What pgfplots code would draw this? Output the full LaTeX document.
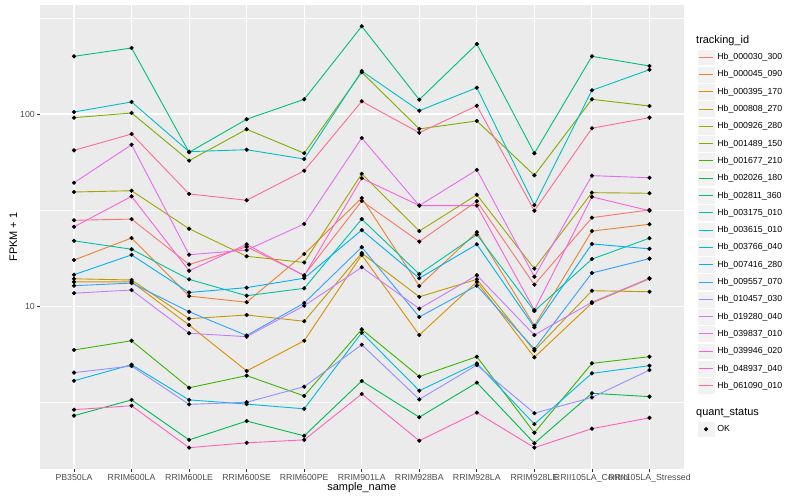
\documentclass[border=0pt]{standalone}
\usepackage{fontspec}
\setmainfont{Liberation Sans}
\usepackage{pgfplots}
\usepackage{pgfplotstable}
\pgfplotsset{compat=1.18}

\definecolor{ggpanel}{HTML}{EBEBEB}
\definecolor{ggkey}{HTML}{F2F2F2}
\definecolor{ggtick}{HTML}{333333}
\definecolor{ggtext}{HTML}{4D4D4D}
\definecolor{c01}{HTML}{F8766D}
\definecolor{c02}{HTML}{EA8331}
\definecolor{c03}{HTML}{D89000}
\definecolor{c04}{HTML}{C09B00}
\definecolor{c05}{HTML}{A3A500}
\definecolor{c06}{HTML}{7CAE00}
\definecolor{c07}{HTML}{39B600}
\definecolor{c08}{HTML}{00BB4E}
\definecolor{c09}{HTML}{00BF7D}
\definecolor{c10}{HTML}{00C1A3}
\definecolor{c11}{HTML}{00BFC4}
\definecolor{c12}{HTML}{00BAE0}
\definecolor{c13}{HTML}{00B0F6}
\definecolor{c14}{HTML}{35A2FF}
\definecolor{c15}{HTML}{9590FF}
\definecolor{c16}{HTML}{C77CFF}
\definecolor{c17}{HTML}{E76BF3}
\definecolor{c18}{HTML}{FA62DB}
\definecolor{c19}{HTML}{FF62BC}
\definecolor{c20}{HTML}{FF6C91}

% FPKM + 1, one row per sample (x = position of sample_name)
\pgfplotstableread{
x  s01  s02   s03  s04   s05  s06   s07  s08  s09   s10   s11   s12  s13  s14  s15  s16   s17   s18  s19  s20
0  28.0 17.4  13.4 13.9  39.3 95.7  5.93 2.70 199.5 21.9  102.4 4.10 14.6 12.8 4.52 11.7  43.9  25.9 2.90 64.7
1  28.4 22.65 13.4 13.7  39.9 101.2 6.62 3.26 220.4 19.8  115.5 4.97 18.5 13.2 4.89 12.15 69.2  37.3 3.04 78.7
2  16.5 11.3  7.99 8.62  25.3 57.2  3.77 2.02 63.2  13.8  63.7  3.26 11.8 9.37 3.09 7.24  18.55 15.3 1.84 38.4
3  20.4 10.5  4.61 9.01  18.2 83.3  4.36 2.53 93.9  11.35 65.2  3.10 12.5 7.05 3.17 6.95  19.6  21.0 1.95 35.6
4  14.5 18.7  6.62 8.36  16.9 62.5  3.42 2.12 119.2 12.4  58.3  2.93 14.0 10.4 3.82 10.07 26.8  14.4 2.02 50.7
5  35.3 36.6  18.5 18.9  48.9 164.8 7.59 4.09 285.8 28.4  167.3 7.29 24.9 20.3 6.31 15.95 75.0  46.3 3.50 116.4
6  21.7 12.75 7.09 11.2  24.6 83.6  4.31 2.65 118.7 14.7  104.0 3.64 14.0 8.80 3.28 9.72  33.4  33.4 2.00 79.9
7  35.2 24.3  13.4 13.8  38.0 92.0  5.47 4.01 231.2 23.6  137.0 5.05 21.0 12.8 4.95 14.5  51.2  33.4 2.80 110.4
8  12.95 7.93 5.43 5.88  15.7 48.0  2.20 1.94 62.5  9.45  33.6  2.44 7.78 6.00 2.78 7.09  14.25 9.57 1.84 31.4
9  28.9 24.6  10.4 12.05 39.0 119.2 5.05 3.53 199.5 17.6  132.8 4.48 21.1 14.9 3.36 10.5  47.8  37.1 2.31 84.3
10 31.7 26.7  13.9 11.9  38.7 110.0 5.47 3.39 177.7 22.6  169.9 4.91 19.9 17.7 4.66 14.0  46.6  31.4 2.63 95.7
}\fpkm

\pgfplotsset{
  gglegend/.style={
    legend style={draw=none, fill=none, inner sep=0pt, row sep=0pt,
      column sep=2.4bp, font=\fontsize{8.8}{10}\selectfont, nodes={inner sep=0pt}},
    legend cell align=left,
  },
}

\begin{document}
\begin{tikzpicture}
\path[use as bounding box, fill=white] (0,0) rectangle (800bp,500bp);

\begin{axis}[
  at={(39.5bp,31bp)}, anchor=south west,
  scale only axis, width=644.5bp, height=464bp,
  xmin=-0.6, xmax=10.6,
  ymode=log, ymin=1.4254, ymax=368.8,
  axis background/.style={fill=ggpanel},
  axis line style={draw=none},
  xtick={0,1,2,3,4,5,6,7,8,9,10},
  xticklabels={PB350LA,RRIM600LA,RRIM600LE,RRIM600SE,RRIM600PE,RRIM901LA,RRIM928BA,RRIM928LA,RRIM928LE,RRII105LA\_Control,RRII105LA\_Stressed},
  ytick={10,100}, yticklabels={10,100},
  minor ytick={3.1623,31.623,316.23},
  grid=both,
  major grid style={white, line width=1.07bp},
  minor grid style={white, line width=0.53bp},
  tick pos=left, tick align=outside,
  major tick length=2.75bp, minor tick length=0pt,
  tick style={ggtick, line width=0.8bp},
  ticklabel style={font=\fontsize{8.8}{10}\selectfont, text=ggtext, inner sep=0pt},
  xticklabel style={anchor=north, yshift=-2.2bp},
  yticklabel style={anchor=east, xshift=-1.75bp},
  xlabel={sample\_name}, ylabel={FPKM + 1},
  label style={font=\fontsize{11}{13}\selectfont, inner sep=0pt},
  xlabel style={at={(rel axis cs:0.5,-0.04677)}, anchor=base},
  ylabel style={at={(rel axis cs:-0.03491,0.5)}, anchor=base},
  gglegend,
  legend style={at={(1.02017,0.90657)}, anchor=north west},
  legend image code/.code={
    \fill[ggkey, draw=white, line width=0.5bp] (0bp,-8.4bp) rectangle (17.3bp,8.4bp);
    \draw[#1, line width=1bp] (1.73bp,0bp) -- (15.57bp,0bp);
  },
]
\pgfplotsinvokeforeach{01,02,03,04,05,06,07,08,09,10,11,12,13,14,15,16,17,18,19,20}{
  \addplot[color=c#1, line width=0.9bp] table[x=x, y=s#1] {\fpkm};
}
\legend{Hb\_000030\_300,Hb\_000045\_090,Hb\_000395\_170,Hb\_000808\_270,Hb\_000926\_280,Hb\_001489\_150,Hb\_001677\_210,Hb\_002026\_180,Hb\_002811\_360,Hb\_003175\_010,Hb\_003615\_010,Hb\_003766\_040,Hb\_007416\_280,Hb\_009557\_070,Hb\_010457\_030,Hb\_019280\_040,Hb\_039837\_010,Hb\_039946\_020,Hb\_048937\_040,Hb\_061090\_010}
\pgfplotsinvokeforeach{01,02,03,04,05,06,07,08,09,10,11,12,13,14,15,16,17,18,19,20}{
  \addplot[forget plot, only marks, mark=*, mark size=1.9bp, black] table[x=x, y=s#1] {\fpkm};
}
\end{axis}

% second legend: quant_status
\begin{axis}[
  at={(39.5bp,31bp)}, anchor=south west,
  scale only axis, width=644.5bp, height=464bp,
  hide axis, xmin=0, xmax=1, ymin=0, ymax=1,
  gglegend,
  legend style={at={(1.02017,0.10485)}, anchor=north west},
  legend image code/.code={
    \fill[ggkey, draw=white, line width=0.5bp] (0bp,-8.4bp) rectangle (17.3bp,8.4bp);
    \draw[#1] plot coordinates {(8.65bp,0bp)};
  },
]
\addlegendimage{only marks, mark=*, mark size=1.9bp, black}
\addlegendentry{OK}
\end{axis}

\node[anchor=base west, inner sep=0pt, font=\fontsize{11}{13}\selectfont] at (696bp,456bp) {tracking\_id};
\node[anchor=base west, inner sep=0pt, font=\fontsize{11}{13}\selectfont] at (696bp,84bp) {quant\_status};
\end{tikzpicture}
\end{document}
